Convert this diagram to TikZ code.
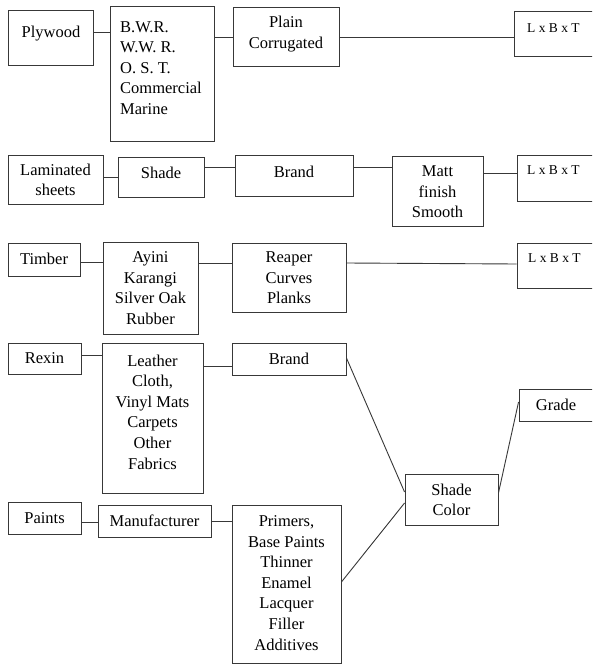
\documentclass[tikz,border=0pt]{standalone}
\usepackage{fontspec}
\setmainfont{Liberation Serif}
\usetikzlibrary{fit}
\begin{document}
\begin{tikzpicture}[x=1pt,y=-1pt,
  box/.style={draw=black!78, line width=0.9pt, inner sep=0pt, rectangle},
  txt/.style={align=center, inner sep=0pt, text=black, font=\fontsize{16.5}{20.6}\selectfont},
  dim/.style={anchor=west, inner sep=0pt, text=black, font=\fontsize{13.5}{16}\selectfont},
  link/.style={draw=black!78, line width=0.9pt}]
\clip (0,0) rectangle (592,666);
\fill[white] (0,0) rectangle (592,666);

% ---- Plywood row ----
\node[box, fit={(8,10) (93,65)}] (ply) {};
\node[txt] (plyT) at (51,34) {Plywood};
\node[box, fit={(110,6) (214,141)}] (bwr) {};
\node[txt, align=left, anchor=west] (bwrT) at (120,68) {B.W.R.\\W.W. R.\\O. S. T.\\Commercial\\Marine};
\node[box, fit={(233,7) (339,66)}] (plain) {};
\node[txt] (plainT) at (286,34) {Plain\\Corrugated};
\node[box, fit={(514,11) (600,56)}] (lbtA) {};
\node[dim] (lbtAT) at (527,28) {L x B x T};

\draw[link] (ply.east |- 0,32) -- (bwr.west |- 0,32);
\draw[link] (bwr.east |- 0,37) -- (plain.west |- 0,37);
\draw[link] (plain.east |- 0,37) -- (lbtA.west |- 0,37);

% ---- Laminated sheets row ----
\node[box, fit={(8,155) (103,204)}] (lam) {};
\node[txt] (lamT) at (55.5,180) {Laminated\\sheets};
\node[box, fit={(118,157) (204,197)}] (shade) {};
\node[txt] (shadeT) at (161,173) {Shade};
\node[box, fit={(235,155) (353,196)}] (brandA) {};
\node[txt] (brandAT) at (294,172) {Brand};
\node[box, fit={(392,156) (483,226)}] (matt) {};
\node[txt] (mattT) at (437.5,192) {Matt\\finish\\Smooth};
\node[box, fit={(517,155) (600,201)}] (lbtB) {};
\node[dim] (lbtBT) at (527,170) {L x B x T};

\draw[link] (lam.east |- 0,177) -- (shade.west |- 0,177);
\draw[link] (shade.east |- 0,167) -- (brandA.west |- 0,167);
\draw[link] (brandA.east |- 0,167) -- (matt.west |- 0,167);
\draw[link] (matt.east |- 0,173) -- (lbtB.west |- 0,173);

% ---- Timber row ----
\node[box, fit={(8,243) (80,276)}] (timber) {};
\node[txt] (timberT) at (44,259) {Timber};
\node[box, fit={(103,242) (198,334)}] (ayini) {};
\node[txt] (ayiniT) at (150.5,288) {Ayini\\Karangi\\Silver Oak\\Rubber};
\node[box, fit={(232,243) (346,312)}] (reaper) {};
\node[txt] (reaperT) at (289,278) {Reaper\\Curves\\Planks};
\node[box, fit={(517,243) (600,288)}] (lbtC) {};
\node[dim] (lbtCT) at (528,258) {L x B x T};

\draw[link] (timber.east |- 0,262) -- (ayini.west |- 0,262);
\draw[link] (ayini.east |- 0,263) -- (reaper.west |- 0,263);
\draw[link] (reaper.east |- 0,263) -- (lbtC.west |- 0,264);

% ---- Rexin row ----
\node[box, fit={(8,343) (81,374)}] (rexin) {};
\node[txt] (rexinT) at (44.5,358) {Rexin};
\node[box, fit={(102,343) (203,493)}] (leather) {};
\node[txt] (leatherT) at (152.5,412) {Leather\\Cloth,\\Vinyl Mats\\Carpets\\Other\\Fabrics};
\node[box, fit={(232,343) (346,375)}] (brandB) {};
\node[txt] (brandBT) at (289,359) {Brand};

\draw[link] (rexin.east |- 0,355) -- (leather.west |- 0,355);
\draw[link] (leather.east |- 0,366) -- (brandB.west |- 0,366);

% ---- Shade / Color and Grade ----
\node[box, fit={(405,474) (498,525)}] (sc) {};
\node[txt] (scT) at (451.5,500) {Shade\\Color};
\node[box, fit={(519,389) (600,421)}] (grade) {};
\node[txt] (gradeT) at (556,405) {Grade};

% ---- Paints row ----
\node[box, fit={(8,502) (81,534)}] (paints) {};
\node[txt] (paintsT) at (44.5,518) {Paints};
\node[box, fit={(98,505) (211,537)}] (manuf) {};
\node[txt] (manufT) at (154.5,521) {Manufacturer};
\node[box, fit={(232,505) (341,663)}] (primers) {};
\node[txt] (primersT) at (286.5,583) {Primers,\\Base Paints\\Thinner\\Enamel\\Lacquer\\Filler\\Additives};

\draw[link] (paints.east |- 0,522) -- (manuf.west |- 0,522);
\draw[link] (manuf.east |- 0,521) -- (primers.west |- 0,521);

% ---- links into Shade / Color ----
\draw[link] (brandB.east |- 0,358) -- (sc.west |- 0,492);
\draw[link] (primers.east |- 0,582) -- (sc.west |- 0,503);
\draw[link] (sc.east |- 0,493) -- (grade.west |- 0,402);
\end{tikzpicture}
\end{document}
